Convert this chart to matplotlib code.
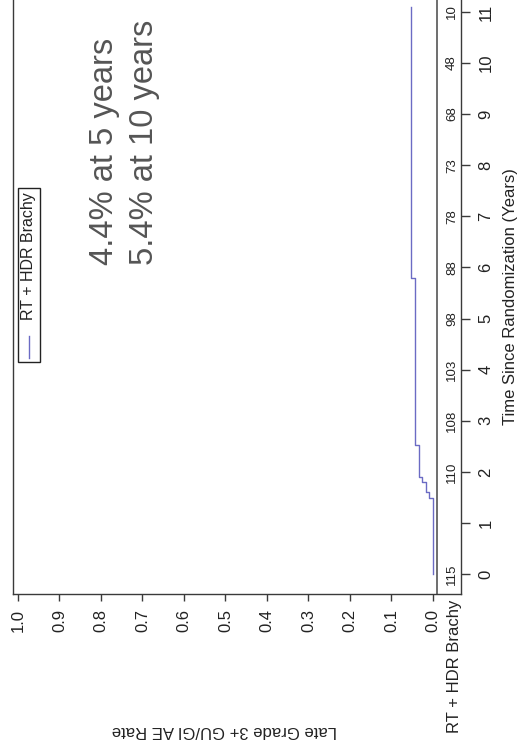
import numpy as np
import matplotlib.pyplot as plt
from matplotlib.patches import Rectangle
from matplotlib.lines import Line2D

plt.rcParams['font.family'] = ['Liberation Sans', 'DejaVu Sans']

# cumulative incidence curve (step points)
event_times = [0, 1.49, 1.60, 1.80, 1.90, 2.52, 5.79]
event_rates = [0, 0.0087, 0.0174, 0.0262, 0.0349, 0.0437, 0.054]
end_time = 11.1

# numbers at risk
risk_times = [0, 2, 3, 4, 5, 6, 7, 8, 9, 10, 11]
at_risk = [115, 110, 108, 103, 98, 88, 78, 73, 68, 48, 10]

rate_ticks = [0.0, 0.1, 0.2, 0.3, 0.4, 0.5, 0.6, 0.7, 0.8, 0.9, 1.0]
time_ticks = [0, 1, 2, 3, 4, 5, 6, 7, 8, 9, 10, 11]

group = 'RT + HDR Brachy'
notes = ['4.4% at 5 years', '5.4% at 10 years']

line_col = '#6b6bc4'
frame_col = '#3a3a3a'

W, H = 521, 751
fig = plt.figure(figsize=(W / 100, H / 100), dpi=100)

def fx(px):
    return px / W

def fy(py):
    return 1 - py / H

# the whole chart is turned 90 deg: rate runs right->left, time bottom->top
ax = fig.add_axes([fx(13), fy(594), fx(461) - fx(13), fy(0) - fy(594)])

tt = np.append(event_times, end_time)
xs = np.repeat(event_rates, 2)
ys = np.column_stack([tt[:-1], tt[1:]]).ravel()
ax.plot(xs, ys, color=line_col, lw=1)

ax.set_xlim(1.012, -0.0675)
ax.set_ylim(-0.391, 11.233)

ax.set_xticks(rate_ticks)
ax.set_xticklabels(['%.1f' % v for v in rate_ticks])
ax.set_yticks(time_ticks)
ax.set_yticklabels([str(v) for v in time_ticks])
ax.yaxis.tick_right()

ax.tick_params(axis='x', direction='out', length=5, width=1, color=frame_col,
               labelrotation=90, pad=6, labelsize=12, labelcolor='#222222')
ax.tick_params(axis='y', direction='out', length=6.5, width=1, color=frame_col,
               labelrotation=90, pad=6, labelsize=12, labelcolor='#222222')
for lab in ax.get_yticklabels():
    lab.set_va('center')

ax.spines['top'].set_visible(False)
for s in ['left', 'right', 'bottom']:
    ax.spines[s].set_color(frame_col)
    ax.spines[s].set_linewidth(1)

# inner frame line separating the risk table strip
xf = (437 - 13) / (461 - 13)
ax.plot([xf, xf], [0, 1], transform=ax.transAxes, color='#555555', lw=1.2,
        clip_on=False)

# numbers at risk
xr = (452 - 13) / (461 - 13)
for t, n in zip(risk_times, at_risk):
    ax.text(xr, t, str(n), transform=ax.get_yaxis_transform(), rotation=90,
            ha='center', va='center', fontsize=9.5, color='#222222')

# axis titles
fig.text(fx(510), fy(297), 'Time Since Randomization (Years)', rotation=90,
         ha='center', va='center', fontsize=12, color='#222222')
fig.text(fx(224), fy(730), 'Late Grade 3+ GU/GI AE Rate', rotation=180,
         ha='center', va='center', fontsize=12, color='#222222')
fig.text(fx(455), fy(600), group, rotation=90, ha='center', va='top',
         fontsize=12, color='#222222')

# annotation
fig.text(fx(105), fy(265), notes[0], rotation=90, ha='center', va='bottom',
         fontsize=23.5, color='#555555')
fig.text(fx(145), fy(265), notes[1], rotation=90, ha='center', va='bottom',
         fontsize=23.5, color='#555555')

# legend box drawn by hand (rotated)
fig.patches.append(Rectangle((fx(18), fy(362)), fx(40) - fx(18), fy(188) - fy(362),
                             transform=fig.transFigure, fill=False,
                             ec='#222222', lw=1))
fig.text(fx(29), fy(192), group, rotation=90, ha='center', va='top',
         fontsize=11.5, color='#222222')
fig.lines.append(Line2D([fx(29), fx(29)], [fy(336), fy(358)],
                        transform=fig.transFigure, color=line_col, lw=1))

fig.savefig('out.png', dpi=100)
